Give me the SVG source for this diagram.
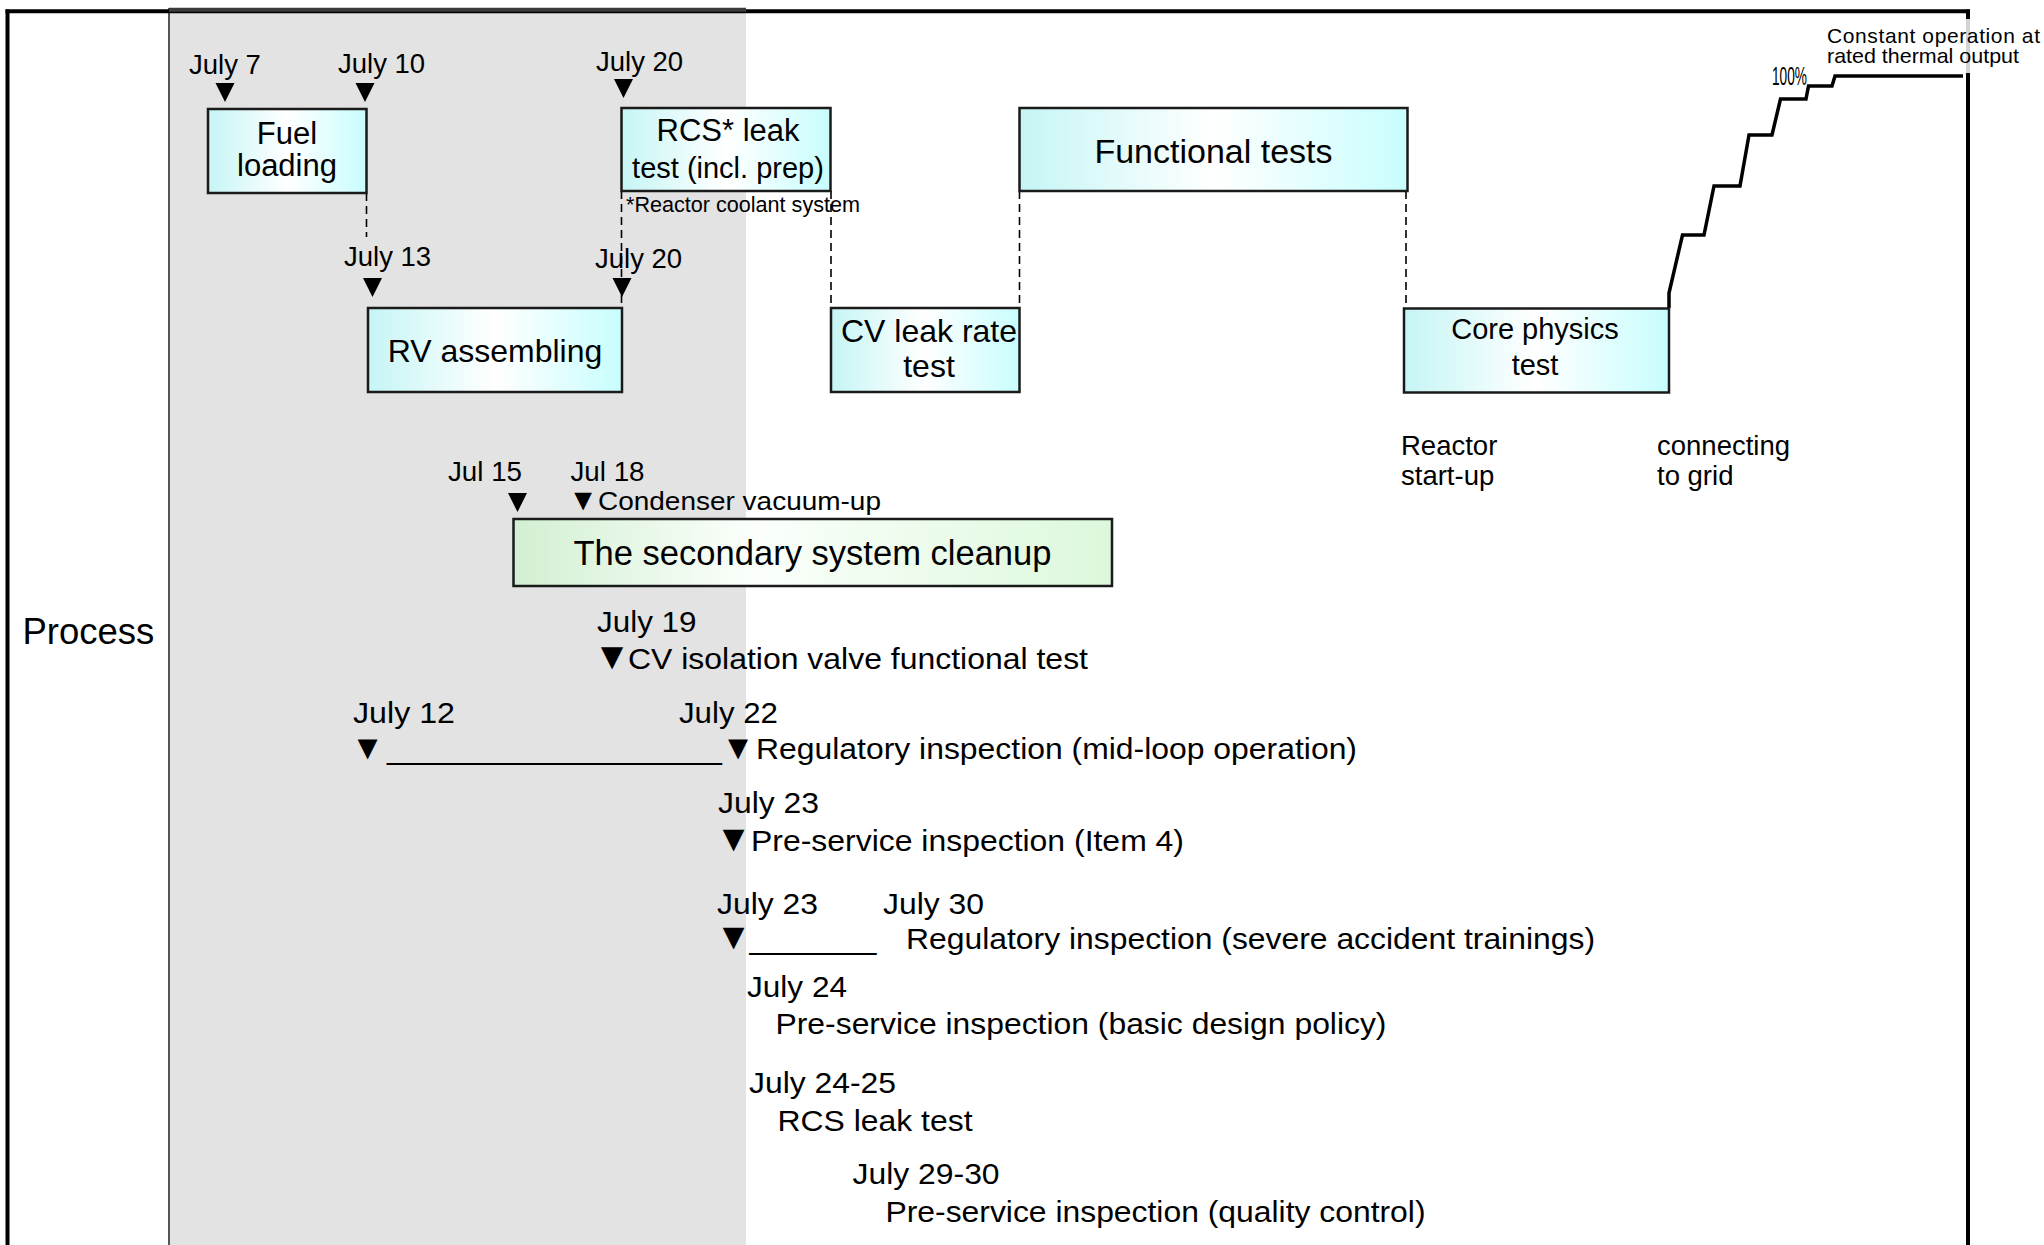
<svg xmlns="http://www.w3.org/2000/svg" xmlns:xlink="http://www.w3.org/1999/xlink" width="2044" height="1245" viewBox="0 0 2044 1245">
<style>
text{font-family:"Liberation Sans",Arial,"DejaVu Sans",sans-serif;fill:#000}
.d27{font-size:27.5px}
.b31{font-size:31px}
.b32{font-size:32px}
.b29{font-size:29px}
.b34{font-size:34.5px}
.l32{font-size:29.5px}
.s21{font-size:21.5px}
.box{stroke:#1a1a1a;stroke-width:2.5}
.dash{stroke:#000;stroke-width:1.6;stroke-dasharray:8 5;fill:none}
.mk{fill:#000}
</style>
<defs>
<linearGradient id="cyan" x1="0" y1="0" x2="1" y2="0">
<stop offset="0" stop-color="#c6f5f5"/>
<stop offset="0.5" stop-color="#ffffff"/>
<stop offset="1" stop-color="#c8fdfd"/>
</linearGradient>
<linearGradient id="green" x1="0" y1="0" x2="1" y2="0">
<stop offset="0" stop-color="#d2efd2"/>
<stop offset="0.4" stop-color="#fbfffb"/>
<stop offset="1" stop-color="#dcf8dc"/>
</linearGradient>
<polygon id="tri" points="-9.5,0 9.5,0 0,19"/>
</defs>
<rect x="0" y="0" width="2044" height="1245" fill="#fff"/>
<g id="frame">
<rect x="169" y="8" width="577" height="1237" fill="#e3e3e3"/>
<line x1="169" y1="8" x2="169" y2="1245" stroke="#444" stroke-width="1.8"/>
<line x1="5.5" y1="11.3" x2="1970" y2="11.3" stroke="#000" stroke-width="4"/>
<line x1="169" y1="9.8" x2="746" y2="9.8" stroke="#3c3c3c" stroke-width="4"/>
<line x1="7.5" y1="9.5" x2="7.5" y2="1245" stroke="#000" stroke-width="4"/>
<line x1="1968" y1="9.5" x2="1968" y2="19" stroke="#000" stroke-width="4"/>
<line x1="1968" y1="19" x2="1968" y2="73" stroke="#d4d4d4" stroke-width="4"/>
<line x1="1968" y1="73" x2="1968" y2="1245" stroke="#000" stroke-width="4"/>
</g>
<g id="connectors">
<line class="dash" x1="366.5" y1="193" x2="366.5" y2="237"/>
<line class="dash" x1="621.5" y1="191" x2="621.5" y2="307"/>
<line class="dash" x1="831" y1="191" x2="831" y2="307"/>
<line class="dash" x1="1019.5" y1="191" x2="1019.5" y2="307"/>
<line class="dash" x1="1406" y1="191" x2="1406" y2="307"/>
<polyline id="power-curve" points="1669,308 1669,293 1682.5,235 1704,235 1714,186 1740,186 1749,135 1772,135 1780.5,99 1806,99 1808.5,86 1832,86 1835,76 1963,76" fill="none" stroke="#000" stroke-width="3.5" stroke-linejoin="miter"/>
</g>
<g id="date-markers" class="mk">
<use xlink:href="#tri" href="#tri" x="225" y="83"/>
<use xlink:href="#tri" href="#tri" x="365" y="83"/>
<use xlink:href="#tri" href="#tri" x="623.5" y="79"/>
<use xlink:href="#tri" href="#tri" x="372.5" y="278"/>
<use xlink:href="#tri" href="#tri" x="622" y="278"/>
<use xlink:href="#tri" href="#tri" x="517.5" y="493"/>
</g>
<g id="fuel-loading">
<rect class="box" x="208" y="109" width="158.5" height="84" fill="url(#cyan)"/>
<text class="b31" x="287" y="144" text-anchor="middle">Fuel</text>
<text class="b31" x="287" y="176" text-anchor="middle">loading</text>
</g>
<g id="rcs-leak-test">
<rect class="box" x="621.5" y="108" width="209" height="83" fill="url(#cyan)"/>
<text class="b31" x="728" y="141" text-anchor="middle">RCS* leak</text>
<text class="b29" x="728" y="178" text-anchor="middle">test (incl. prep)</text>
</g>
<g id="rv-assembling">
<rect class="box" x="368" y="308" width="254" height="84" fill="url(#cyan)"/>
<text class="b32" x="495" y="362" text-anchor="middle">RV assembling</text>
</g>
<g id="cv-leak-rate-test">
<rect class="box" x="831" y="308" width="188.5" height="84" fill="url(#cyan)"/>
<text class="b32" x="929" y="342" text-anchor="middle" textLength="176" lengthAdjust="spacingAndGlyphs">CV leak rate</text>
<text class="b32" x="929" y="377" text-anchor="middle">test</text>
</g>
<g id="functional-tests">
<rect class="box" x="1019.5" y="108" width="388" height="83" fill="url(#cyan)"/>
<text x="1213.5" y="163" text-anchor="middle" font-size="34px">Functional tests</text>
</g>
<g id="core-physics-test">
<rect class="box" x="1404" y="308.5" width="265" height="84" fill="url(#cyan)"/>
<text class="b29" x="1535" y="339" text-anchor="middle">Core physics</text>
<text class="b29" x="1535" y="375" text-anchor="middle">test</text>
</g>
<g id="secondary-cleanup">
<rect class="box" x="513.5" y="519" width="598.5" height="67" fill="url(#green)"/>
<text class="b34" x="812.5" y="565" text-anchor="middle" textLength="478" lengthAdjust="spacingAndGlyphs">The secondary system cleanup</text>
</g>
<g id="top-dates">
<text class="d27" x="189" y="74">July 7</text>
<text class="d27" x="338" y="73">July 10</text>
<text class="d27" x="596" y="71">July 20</text>
<text class="s21" x="626" y="212" textLength="234" lengthAdjust="spacingAndGlyphs">*Reactor coolant system</text>
<text class="d27" x="344" y="266">July 13</text>
<text class="d27" x="595" y="268">July 20</text>
</g>
<g id="milestones">
<text class="d27" x="1401" y="455">Reactor</text>
<text class="d27" x="1401" y="485">start-up</text>
<text class="d27" x="1657" y="455">connecting</text>
<text class="d27" x="1657" y="485">to grid</text>
<text x="1772" y="85" font-size="26px" textLength="35" lengthAdjust="spacingAndGlyphs">100%</text>
<text x="1827" y="43" font-size="21px" textLength="213" lengthAdjust="spacing">Constant operation at</text>
<text x="1827" y="63" font-size="21px" textLength="192" lengthAdjust="spacingAndGlyphs">rated thermal output</text>
</g>
<g id="process-label">
<text x="22.5" y="644" font-size="36.5px">Process</text>
</g>
<g id="schedule">
<text class="d27" x="448" y="481" textLength="74" lengthAdjust="spacingAndGlyphs">Jul 15</text>
<text class="d27" x="570.5" y="481" textLength="74" lengthAdjust="spacingAndGlyphs">Jul 18</text>
<text y="510" font-size="26px"><tspan x="583" text-anchor="middle" font-size="30px">▼</tspan><tspan x="598" text-anchor="start" textLength="283" lengthAdjust="spacingAndGlyphs">Condenser vacuum-up</tspan></text>
<text class="l32" x="597" y="632" textLength="99.5" lengthAdjust="spacingAndGlyphs">July 19</text>
<text class="l32" y="669"><tspan x="612" text-anchor="middle" font-size="38px">▼</tspan><tspan x="628" text-anchor="start" textLength="460" lengthAdjust="spacingAndGlyphs">CV isolation valve functional test</tspan></text>
<text class="l32" x="353" y="723" textLength="102" lengthAdjust="spacingAndGlyphs">July 12</text>
<text class="l32" x="679" y="723" textLength="99" lengthAdjust="spacingAndGlyphs">July 22</text>
<text class="l32" y="759"><tspan x="367.5" text-anchor="middle" font-size="34px">▼</tspan><tspan x="387" text-anchor="start" textLength="335" lengthAdjust="spacingAndGlyphs">___________________</tspan><tspan x="738" text-anchor="middle" font-size="34px">▼</tspan><tspan x="756" text-anchor="start" textLength="601" lengthAdjust="spacingAndGlyphs">Regulatory inspection (mid-loop operation)</tspan></text>
<text class="l32" x="718" y="813" textLength="101" lengthAdjust="spacingAndGlyphs">July 23</text>
<text class="l32" y="851"><tspan x="733.5" text-anchor="middle" font-size="37px">▼</tspan><tspan x="751" text-anchor="start" textLength="433" lengthAdjust="spacingAndGlyphs">Pre-service inspection (Item 4)</tspan></text>
<text class="l32" x="717" y="914" textLength="101" lengthAdjust="spacingAndGlyphs">July 23</text>
<text class="l32" x="883" y="914" textLength="101" lengthAdjust="spacingAndGlyphs">July 30</text>
<text class="l32" y="949"><tspan x="733.5" text-anchor="middle" font-size="37px">▼</tspan><tspan x="749.5" text-anchor="start" textLength="127" lengthAdjust="spacingAndGlyphs">_______</tspan><tspan x="906" text-anchor="start" textLength="689" lengthAdjust="spacingAndGlyphs">Regulatory inspection (severe accident trainings)</tspan></text>
<text class="l32" x="747" y="997" textLength="100" lengthAdjust="spacingAndGlyphs">July 24</text>
<text class="l32" x="775.5" y="1034" textLength="611" lengthAdjust="spacingAndGlyphs">Pre-service inspection (basic design policy)</text>
<text class="l32" x="749" y="1093" textLength="147" lengthAdjust="spacingAndGlyphs">July 24-25</text>
<text class="l32" x="777.5" y="1131" textLength="195" lengthAdjust="spacingAndGlyphs">RCS leak test</text>
<text class="l32" x="852.6" y="1184" textLength="147" lengthAdjust="spacingAndGlyphs">July 29-30</text>
<text class="l32" x="885.5" y="1222" textLength="540" lengthAdjust="spacingAndGlyphs">Pre-service inspection (quality control)</text>
</g>
</svg>
